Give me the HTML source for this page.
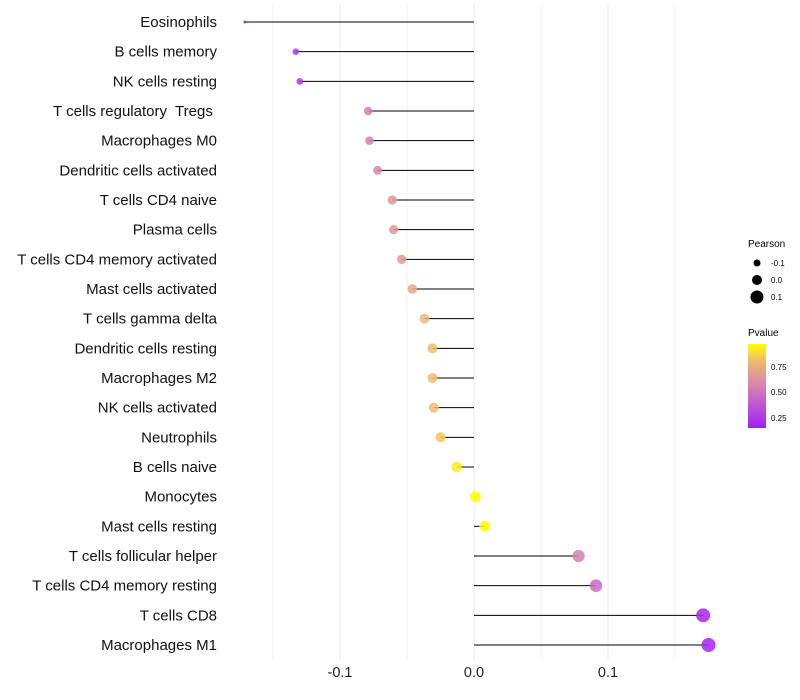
<!DOCTYPE html>
<html><head><meta charset="utf-8"><style>
body{margin:0;background:#fff;}
svg{display:block;font-family:"Liberation Sans",sans-serif;}
text{white-space:pre;}
</style></head><body>
<svg id="chart" width="800" height="700">
<defs><linearGradient id="pg" x1="0" y1="1" x2="0" y2="0">
<stop offset="0" stop-color="#A020F0"/><stop offset="0.3" stop-color="#C25CD2"/><stop offset="0.55" stop-color="#D98CA4"/><stop offset="0.8" stop-color="#EFBC6C"/><stop offset="1" stop-color="#FFFF00"/></linearGradient></defs>
<g id="grid"></g><g id="marks"></g><g id="labels"></g>
<g>
<text x="748" y="247" font-size="10">Pearson</text>
<circle cx="757" cy="263" r="3.5" fill="#000"/><text x="771" y="266" font-size="8">-0.1</text>
<circle cx="757" cy="280" r="5" fill="#000"/><text x="771" y="283" font-size="8">0.0</text>
<circle cx="757" cy="297" r="6.5" fill="#000"/><text x="771" y="300" font-size="8">0.1</text>
</g>
<g>
<text x="748" y="336" font-size="10">Pvalue</text>
<rect x="748" y="344" width="18" height="84" fill="url(#pg)"/>
<text x="771" y="370" font-size="8">0.75</text>
<text x="771" y="395" font-size="8">0.50</text>
<text x="771" y="421" font-size="8">0.25</text>
</g>
</svg>
<script>
const cells=["Eosinophils","B cells memory","NK cells resting","T cells regulatory  Tregs ","Macrophages M0","Dendritic cells activated","T cells CD4 naive","Plasma cells","T cells CD4 memory activated","Mast cells activated","T cells gamma delta","Dendritic cells resting","Macrophages M2","NK cells activated","Neutrophils","B cells naive","Monocytes","Mast cells resting","T cells follicular helper","T cells CD4 memory resting","T cells CD8","Macrophages M1"];
const pearson=[-0.171,-0.133,-0.130,-0.079,-0.078,-0.072,-0.061,-0.060,-0.054,-0.046,-0.037,-0.031,-0.031,-0.030,-0.025,-0.013,0.001,0.008,0.078,0.091,0.171,0.175];
const pvalue=[0.15,0.25,0.25,0.55,0.55,0.58,0.65,0.65,0.68,0.72,0.78,0.8,0.8,0.8,0.83,0.93,0.99,0.96,0.55,0.45,0.17,0.16];
const xTicks=[-0.1,0.0,0.1];
const xTickLabels=["-0.1","0.0","0.1"];
const minorTicks=[-0.15,-0.05,0.05,0.15];
const NS="http://www.w3.org/2000/svg";
const xs=v=>474+v*1340;
const ys=i=>22+i*(645-22)/21;
const vmin=Math.min(...pearson),vmax=Math.max(...pearson);
const rs=v=>1.5+5.5*Math.sqrt((v-vmin)/(vmax-vmin));
const stops=[[0.14,[160,32,240]],[0.39,[194,92,210]],[0.6,[217,140,164]],[0.8,[239,188,108]],[0.97,[255,255,0]]];
function col(p){if(p<=stops[0][0])return stops[0][1];for(let i=1;i<stops.length;i++){if(p<=stops[i][0]){const a=stops[i-1],b=stops[i],t=(p-a[0])/(b[0]-a[0]);return a[1].map((c,k)=>Math.round(c+(b[1][k]-c)*t));}}return stops[stops.length-1][1];}
function mk(t,a){const e=document.createElementNS(NS,t);for(const k in a)e.setAttribute(k,a[k]);return e;}
const grid=document.getElementById('grid'),marks=document.getElementById('marks'),labels=document.getElementById('labels');
minorTicks.forEach(v=>{const l=mk('line',{x1:xs(v),x2:xs(v),y1:5,y2:660,stroke:'#f0f0f0','stroke-width':1});

grid.appendChild(l);});
xTicks.forEach((v,i)=>{const l=mk('line',{x1:xs(v),x2:xs(v),y1:5,y2:660,stroke:'#ebebeb','stroke-width':1});

grid.appendChild(l);
const t=mk('text',{x:xs(v),y:677,'font-size':14.5,'text-anchor':'middle',fill:'#222'});t.textContent=xTickLabels[i];

labels.appendChild(t);});
cells.forEach((c,i)=>{const y=ys(i);
const l=mk('line',{x1:xs(0),x2:xs(pearson[i]),y1:y,y2:y,stroke:'#000','stroke-width':1});

marks.appendChild(l);
const cc=col(pvalue[i]);
const p=mk('circle',{cx:xs(pearson[i]),cy:y,r:rs(pearson[i]),fill:'rgb('+cc.join(',')+')','fill-opacity':0.85});

marks.appendChild(p);
const t=mk('text',{x:217,y:y+5,'font-size':15,'text-anchor':'end',fill:'#111'});t.textContent=c;

labels.appendChild(t);});
</script>
</body></html>
